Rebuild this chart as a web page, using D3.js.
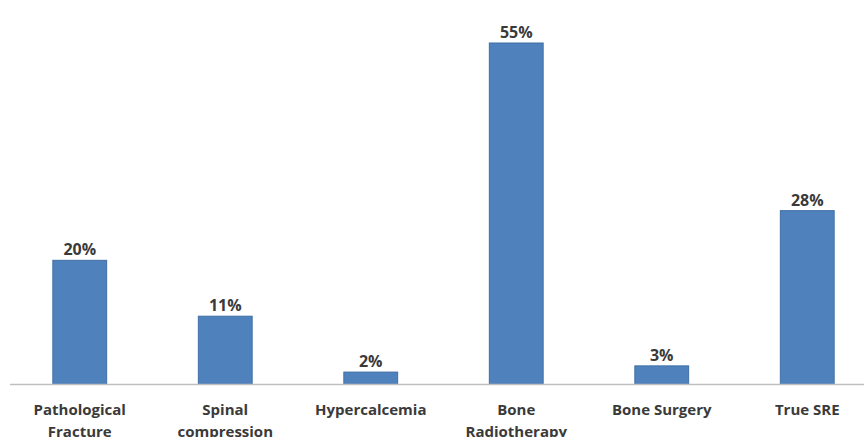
<!DOCTYPE html>
<html>
<head>
<meta charset="utf-8">
<script src="https://cdn.jsdelivr.net/npm/d3@7"></script>
<style>
  html, body { margin: 0; padding: 0; background: #fff; }
  svg { display: block; }
  text { font-family: "Open Sans", Lato, sans-serif; font-weight: 700; fill: #3a3a3a; }
</style>
</head>
<body>
<svg id="chart" width="864" height="437"></svg>
<script>
// Skeletal-related events, share of patients (%)
const categories = [
  ["Pathological", "Fracture"],
  ["Spinal", "compression"],
  ["Hypercalcemia"],
  ["Bone", "Radiotherapy"],
  ["Bone Surgery"],
  ["True SRE"]
];
const values = [20, 11, 2, 55, 3, 28];

const svg = d3.select("#chart");
const width = 864, height = 437;
const baseline = 384.5;

const x = d3.scaleBand()
  .domain(d3.range(categories.length))
  .range([7, 880])
  .paddingInner(0.63)
  .paddingOuter(0.315);

const y = d3.scaleLinear()
  .domain([0, 55])
  .range([baseline, 43]);

// bars
svg.append("g")
  .selectAll("rect")
  .data(values)
  .join("rect")
  .attr("x", (d, i) => x(i))
  .attr("y", d => y(d))
  .attr("width", x.bandwidth())
  .attr("height", d => baseline - y(d))
  .attr("fill", "#4F81BD")
  .attr("stroke", "#3F6FA6")
  .attr("stroke-width", 1);

// category axis line
svg.append("line")
  .attr("x1", 10).attr("x2", width)
  .attr("y1", baseline).attr("y2", baseline)
  .attr("stroke", "#BFBFBF")
  .attr("stroke-width", 1.5);

// value labels
svg.append("g")
  .selectAll("text")
  .data(values)
  .join("text")
  .attr("x", (d, i) => x(i) + x.bandwidth() / 2)
  .attr("y", d => y(d) - 5)
  .attr("text-anchor", "middle")
  .attr("font-size", 16)
  .text(d => d + "%");

// category labels
const labels = svg.append("g")
  .selectAll("text")
  .data(categories)
  .join("text")
  .attr("text-anchor", "middle")
  .attr("font-size", 15)
  .attr("y", 415);
labels.each(function (lines, i) {
  const t = d3.select(this);
  lines.forEach((ln, j) => {
    t.append("tspan")
      .attr("x", x(i) + x.bandwidth() / 2)
      .attr("dy", j === 0 ? 0 : 22)
      .text(ln);
  });
});
</script>
</body>
</html>
